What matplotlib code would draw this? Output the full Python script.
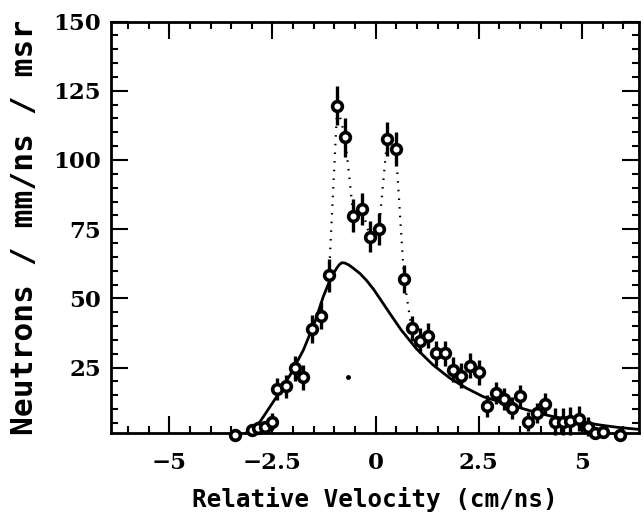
import matplotlib
matplotlib.use("Agg")
import matplotlib.pyplot as plt
from matplotlib.ticker import MultipleLocator

# ---- data ----
velocity = [-3.40, -3.00, -2.84, -2.68, -2.52, -2.38, -2.17, -1.95, -1.75, -1.55,
            -1.33, -1.13, -0.93, -0.74, -0.54, -0.33, -0.14, 0.08, 0.28, 0.49,
            0.69, 0.87, 1.07, 1.27, 1.47, 1.68, 1.87, 2.08, 2.28, 2.50,
            2.69, 2.91, 3.11, 3.31, 3.51, 3.70, 3.90, 4.10, 4.34, 4.53,
            4.72, 4.93, 5.15, 5.31, 5.51, 5.92]
neutrons = [0.7, 2.5, 3.1, 3.7, 5.5, 17.2, 18.2, 24.8, 21.5, 38.9,
            43.8, 58.4, 119.6, 108.2, 79.9, 82.2, 72.3, 75.1, 107.6, 104.0,
            56.9, 39.2, 34.8, 36.6, 30.2, 30.2, 24.2, 22.0, 25.7, 23.4,
            11.2, 15.8, 13.6, 10.4, 14.8, 5.5, 8.6, 11.8, 5.5, 5.5,
            5.8, 6.5, 3.7, 1.3, 1.7, 0.7]
errors = [1.0, 1.5, 1.5, 2.0, 3.0, 4.0, 4.0, 4.5, 4.5, 5.0,
          5.0, 6.0, 7.0, 7.0, 6.0, 5.7, 5.7, 5.7, 6.0, 6.0,
          5.0, 4.5, 4.5, 4.5, 4.5, 4.5, 4.5, 4.5, 4.5, 4.5,
          4.0, 4.0, 4.0, 4.0, 4.0, 3.5, 3.5, 4.0, 5.0, 5.0,
          5.0, 4.5, 3.5, 1.5, 1.5, 1.0]

# dotted curve through the peak region
peak_v = [-1.13, -0.93, -0.74, -0.54, -0.33, -0.14, 0.08, 0.28, 0.49, 0.69, 0.87]
peak_n = [58.4, 119.6, 108.2, 79.9, 82.2, 72.3, 75.1, 107.6, 104.0, 56.9, 39.2]

# solid model curve
fit_v = [-3.20, -2.80, -2.40, -2.07, -1.75, -1.47, -1.27, -1.11, -1.00, -0.94,
         -0.88, -0.82, -0.75, -0.65, -0.54, -0.38, -0.22, -0.05, 0.10, 0.38,
         0.62, 0.99, 1.39, 1.80, 2.20, 2.61, 3.01, 3.41, 3.82, 4.22,
         4.62, 5.03, 5.43, 5.83, 6.24, 6.40]
fit_n = [0.7, 5.5, 14.5, 22.4, 31.4, 41.6, 50.6, 56.5, 59.6, 61.0,
         62.2, 62.9, 62.8, 62.1, 60.9, 59.0, 56.5, 53.3, 50.0, 43.8,
         38.6, 31.8, 26.0, 21.2, 17.6, 14.5, 12.7, 10.9, 9.1, 7.6,
         6.4, 5.3, 4.3, 3.5, 2.9, 2.7]

# stray dot
stray_v = [-0.66]
stray_n = [21.5]

xticks = [-5, -2.5, 0, 2.5, 5]
xticklabels = ["\u22125", "\u22122.5", "0", "2.5", "5"]
yticks = [25, 50, 75, 100, 125, 150]
yticklabels = ["25", "50", "75", "100", "125", "150"]

fig = plt.figure(figsize=(6.44, 5.13), dpi=100)
ax = fig.add_axes([0.172, 0.1565, 0.820, 0.8015])

ax.plot(fit_v, fit_n, color="black", lw=2.0, zorder=2)
ax.plot(peak_v, peak_n, color="black", lw=1.6, ls=(0, (0.7, 3.2)), zorder=2)
ax.errorbar(velocity, neutrons, yerr=errors, fmt="o", ms=7, mfc="white",
            mec="black", mew=2.6, ecolor="black", elinewidth=2.4, capsize=0,
            zorder=3, clip_on=False)
ax.plot(stray_v, stray_n, "o", color="black", ms=2.5, zorder=3)

ax.set_xlim(-6.42, 6.38)
ax.set_ylim(1.5, 150)

ax.set_xticks(xticks)
ax.set_xticklabels(xticklabels)
ax.set_yticks(yticks)
ax.set_yticklabels(yticklabels)
ax.xaxis.set_minor_locator(MultipleLocator(0.5))
ax.yaxis.set_minor_locator(MultipleLocator(5))

ax.tick_params(which="both", direction="in", top=True, right=True, width=1.5)
ax.tick_params(which="major", length=12)
ax.tick_params(which="minor", length=5)
ax.tick_params(axis="x", which="major", pad=14)
ax.tick_params(axis="y", which="major", pad=7)
for lab in ax.get_xticklabels() + ax.get_yticklabels():
    lab.set_fontfamily("DejaVu Serif")
    lab.set_fontweight("bold")
    lab.set_fontsize(16.5)

for s in ax.spines.values():
    s.set_linewidth(2.0)

ax.set_xlabel("Relative Velocity (cm/ns)", fontfamily="DejaVu Sans Mono",
              fontweight="bold", fontsize=17.5, labelpad=9)
ax.set_ylabel("Neutrons / mm/ns / msr", fontfamily="DejaVu Sans Mono",
              fontweight="bold", fontsize=22.5, labelpad=10)

fig.savefig("out.png", dpi=100)
